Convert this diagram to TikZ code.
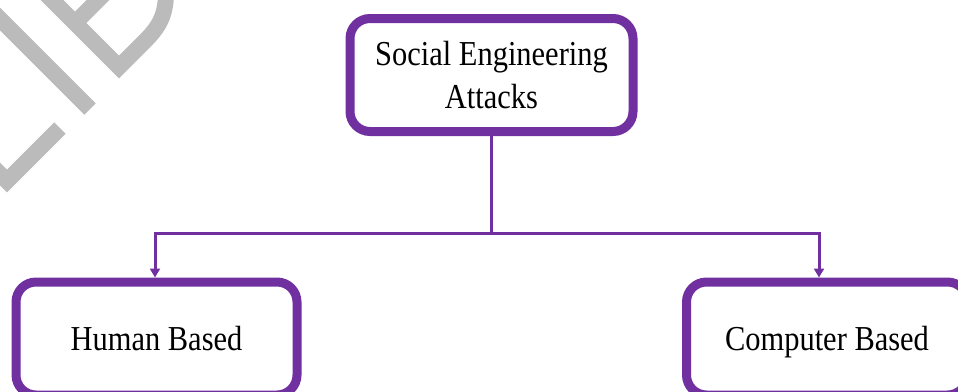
\documentclass[tikz,border=0pt]{standalone}
\usepackage{fontspec}
\setmainfont{Liberation Serif}
\newfontfamily\tsfont[FakeStretch=0.87]{Liberation Serif}
\usetikzlibrary{arrows.meta}
\definecolor{boxpurple}{HTML}{7030A0}
\definecolor{wmgray}{HTML}{BBBBBB}
\begin{document}
\begin{tikzpicture}[x=1pt,y=-1pt,
  box/.style={draw=boxpurple, line width=9pt, rounded corners=20pt, fill=white,
    align=center, inner sep=0pt, font=\tsfont\fontsize{35}{43}\selectfont},
  onebox/.style={box, minimum width=281pt, minimum height=113pt, text height=23pt, text depth=0pt},
  link/.style={draw=boxpurple, line width=3pt},
  tip/.style={-{Triangle[length=9pt,width=10pt]}},
  wm/.style={draw=wmgray, line width=16pt, line cap=butt, line join=miter}]
\useasboundingbox (0,0) rectangle (958,391);
\clip (0,0) rectangle (958,391);
% watermark
\draw[wm] (-20,154) -- (7,181) -- (60,128);
\draw[wm] (-12,7) -- (90,109);
\draw[wm] (45,-7) -- (119,67) -- (145,41) .. controls (160,26) and (166,14) .. (166,-8);
\draw[wm] (75,23) -- (105,-7);
% boxes
\node[box, minimum width=283pt, minimum height=113pt] (top) at (491.5,75) {Social Engineering\\Attacks};
\node[onebox] (human) at (156.5,338.5) {Human Based};
\node[onebox] (computer) at (827,338.5) {Computer Based};
% connectors
\coordinate (j) at (491.5,233);
\draw[link] (top.south) -- (j);
\draw[link, tip] (j) -| ([xshift=-1.5pt]human.north);
\draw[link, tip] (j) -| ([xshift=-8pt]computer.north);
\end{tikzpicture}
\end{document}
